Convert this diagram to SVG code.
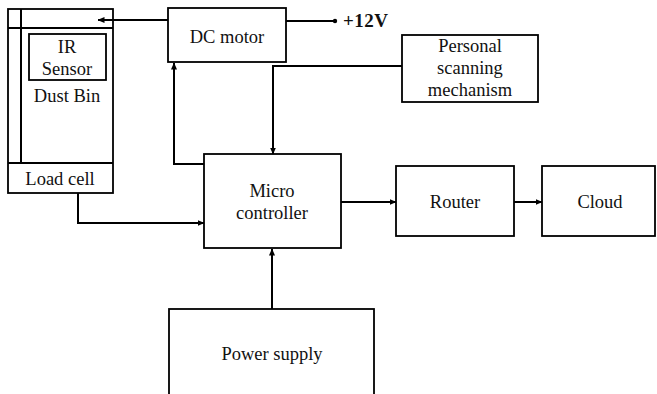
<svg xmlns="http://www.w3.org/2000/svg" width="657" height="394" viewBox="0 0 657 394">
<defs>
<marker id="ah" markerWidth="7" markerHeight="6" refX="6.5" refY="3" orient="auto" markerUnits="userSpaceOnUse">
<path d="M0,0 L7,3 L0,6 Z" fill="#000"/>
</marker>
<style>
.box{fill:#fff;stroke:#000;stroke-width:1.8}
.ln{fill:none;stroke:#000;stroke-width:2}
.t{font-family:"Liberation Serif","Times New Roman",serif;font-size:18.5px;fill:#111;text-anchor:middle}
</style>
</defs>
<rect width="657" height="394" fill="#fff"/>
<g id="dustbin">
<rect class="box" x="8" y="9" width="105" height="184"/>
<line class="ln" x1="21" y1="9" x2="21" y2="163" stroke-width="1.8"/>
<line class="ln" x1="8" y1="28" x2="113" y2="28" stroke-width="1.8"/>
<line class="ln" x1="8" y1="163" x2="113" y2="163" stroke-width="1.8"/>
<rect class="box" x="29" y="34" width="77" height="46"/>
<text class="t" x="67" y="53">IR</text>
<text class="t" x="67" y="75">Sensor</text>
<text class="t" x="67" y="102">Dust Bin</text>
<text class="t" x="60" y="185">Load cell</text>
</g>
<g id="dcmotor">
<rect class="box" x="168" y="8" width="118" height="54"/>
<text class="t" x="227" y="43">DC motor</text>
</g>
<g id="v12">
<circle cx="335" cy="21" r="2.2" fill="#000"/>
<text x="343" y="27" style="font-family:'Liberation Serif','Times New Roman',serif;font-size:19px;font-weight:bold;fill:#111;letter-spacing:0.5px">+12V</text>
</g>
<g id="scanning">
<rect class="box" x="402" y="35" width="136" height="67"/>
<text class="t" x="470" y="52">Personal</text>
<text class="t" x="470" y="74">scanning</text>
<text class="t" x="470" y="96">mechanism</text>
</g>
<g id="controller">
<rect class="box" x="204" y="154" width="137" height="94"/>
<text class="t" x="272" y="197">Micro</text>
<text class="t" x="272" y="219">controller</text>
</g>
<g id="router">
<rect class="box" x="396" y="166" width="118" height="70"/>
<text class="t" x="455" y="208">Router</text>
</g>
<g id="cloud">
<rect class="box" x="542" y="166" width="113" height="70"/>
<text class="t" x="600" y="208">Cloud</text>
</g>
<g id="power">
<rect class="box" x="169" y="309" width="205" height="100"/>
<text class="t" x="272" y="360">Power supply</text>
</g>
<g id="connectors">
<line class="ln" x1="168" y1="20" x2="98" y2="20" marker-end="url(#ah)"/>
<line class="ln" x1="286" y1="21" x2="335" y2="21"/>
<polyline class="ln" points="204,164 174,164 174,63" marker-end="url(#ah)"/>
<polyline class="ln" points="402,66 273,66 273,154" marker-end="url(#ah)"/>
<polyline class="ln" points="78,193 78,223 204,223" marker-end="url(#ah)"/>
<line class="ln" x1="341" y1="202" x2="396" y2="202" marker-end="url(#ah)"/>
<line class="ln" x1="514" y1="202" x2="542" y2="202" marker-end="url(#ah)"/>
<line class="ln" x1="272" y1="309" x2="272" y2="249" marker-end="url(#ah)"/>
</g>
</svg>
